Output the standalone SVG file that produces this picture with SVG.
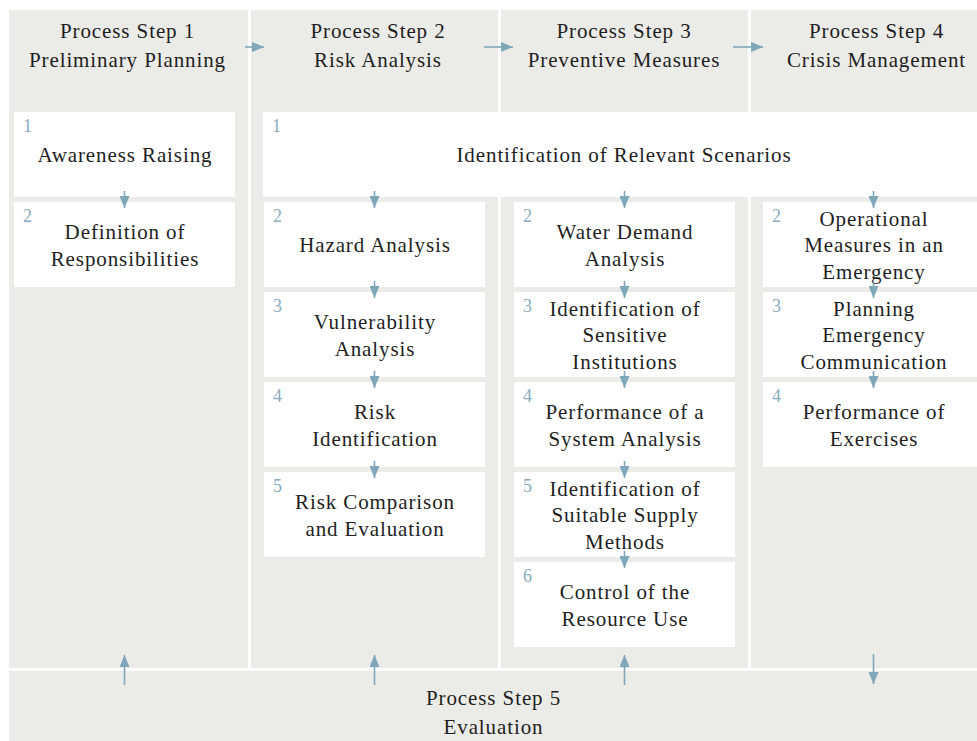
<svg xmlns="http://www.w3.org/2000/svg" width="977" height="741" viewBox="0 0 977 741">
<style>
.bg{fill:#ebebe7}
.box{fill:#ffffff}
.t{font-family:'Liberation Serif','DejaVu Serif',serif;font-size:21px;letter-spacing:0.9px;fill:#1e1e1e;text-anchor:middle}
.n{font-family:'Liberation Serif','DejaVu Serif',serif;font-size:18px;fill:#8aabbd}
.c{stroke:#80a7b9;stroke-width:1.6;fill:none;marker-end:url(#ah)}
</style>
<defs>
<marker id="ah" viewBox="0 0 12 10" refX="12" refY="5" markerWidth="12" markerHeight="10" markerUnits="userSpaceOnUse" orient="auto">
<path d="M0,0 L12,5 L0,10 z" fill="#80a7b9"/>
</marker>
</defs>
<rect width="977" height="741" fill="#ffffff"/>
<g id="columns">
<rect class="bg" x="9" y="10" width="239" height="658"/>
<rect class="bg" x="251" y="10" width="247" height="658"/>
<rect class="bg" x="501" y="10" width="247" height="658"/>
<rect class="bg" x="751" y="10" width="233" height="658"/>
</g>
<g id="step1">
<text class="t" x="127.5" y="38">Process Step 1</text>
<text class="t" x="127.5" y="67">Preliminary Planning</text>
</g>
<g id="step2">
<text class="t" x="378" y="38">Process Step 2</text>
<text class="t" x="378" y="67">Risk Analysis</text>
</g>
<g id="step3">
<text class="t" x="624" y="38">Process Step 3</text>
<text class="t" x="624" y="67">Preventive Measures</text>
</g>
<g id="step4">
<text class="t" x="876.5" y="38">Process Step 4</text>
<text class="t" x="876.5" y="67">Crisis Management</text>
</g>
<g id="step5">
<rect class="bg" x="9" y="671" width="975" height="75"/>
<text class="t" x="493.5" y="705">Process Step 5</text>
<text class="t" x="493.5" y="734">Evaluation</text>
</g>
<g id="p1-1">
<rect class="box" x="14" y="112" width="221" height="85"/>
<text class="n" x="23" y="132">1</text>
<text class="t" x="125" y="162">Awareness Raising</text>
</g>
<g id="p1-2">
<rect class="box" x="14" y="202" width="221" height="85"/>
<text class="n" x="23" y="222">2</text>
<text class="t" x="125" y="239">Definition of</text>
<text class="t" x="125" y="266">Responsibilities</text>
</g>
<g id="p234-1">
<rect class="box" x="263" y="112" width="721" height="85"/>
<text class="n" x="272" y="132">1</text>
<text class="t" x="624" y="162">Identification of Relevant Scenarios</text>
</g>
<g id="p2-2">
<rect class="box" x="264" y="202" width="221" height="85"/>
<text class="n" x="273" y="222">2</text>
<text class="t" x="375" y="252">Hazard Analysis</text>
</g>
<g id="p2-3">
<rect class="box" x="264" y="292" width="221" height="85"/>
<text class="n" x="273" y="312">3</text>
<text class="t" x="375" y="329">Vulnerability</text>
<text class="t" x="375" y="356">Analysis</text>
</g>
<g id="p2-4">
<rect class="box" x="264" y="382" width="221" height="85"/>
<text class="n" x="273" y="402">4</text>
<text class="t" x="375" y="419">Risk</text>
<text class="t" x="375" y="446">Identification</text>
</g>
<g id="p2-5">
<rect class="box" x="264" y="472" width="221" height="85"/>
<text class="n" x="273" y="492">5</text>
<text class="t" x="375" y="509">Risk Comparison</text>
<text class="t" x="375" y="536">and Evaluation</text>
</g>
<g id="p3-2">
<rect class="box" x="514" y="202" width="221" height="85"/>
<text class="n" x="523" y="222">2</text>
<text class="t" x="625" y="239">Water Demand</text>
<text class="t" x="625" y="266">Analysis</text>
</g>
<g id="p3-3">
<rect class="box" x="514" y="292" width="221" height="85"/>
<text class="n" x="523" y="312">3</text>
<text class="t" x="625" y="315.5">Identification of</text>
<text class="t" x="625" y="342">Sensitive</text>
<text class="t" x="625" y="368.5">Institutions</text>
</g>
<g id="p3-4">
<rect class="box" x="514" y="382" width="221" height="85"/>
<text class="n" x="523" y="402">4</text>
<text class="t" x="625" y="419">Performance of a</text>
<text class="t" x="625" y="446">System Analysis</text>
</g>
<g id="p3-5">
<rect class="box" x="514" y="472" width="221" height="85"/>
<text class="n" x="523" y="492">5</text>
<text class="t" x="625" y="495.5">Identification of</text>
<text class="t" x="625" y="522">Suitable Supply</text>
<text class="t" x="625" y="548.5">Methods</text>
</g>
<g id="p3-6">
<rect class="box" x="514" y="562" width="221" height="85"/>
<text class="n" x="523" y="582">6</text>
<text class="t" x="625" y="599">Control of the</text>
<text class="t" x="625" y="626">Resource Use</text>
</g>
<g id="p4-2">
<rect class="box" x="763" y="202" width="221" height="85"/>
<text class="n" x="772" y="222">2</text>
<text class="t" x="874" y="225.5">Operational</text>
<text class="t" x="874" y="252">Measures in an</text>
<text class="t" x="874" y="278.5">Emergency</text>
</g>
<g id="p4-3">
<rect class="box" x="763" y="292" width="221" height="85"/>
<text class="n" x="772" y="312">3</text>
<text class="t" x="874" y="315.5">Planning</text>
<text class="t" x="874" y="342">Emergency</text>
<text class="t" x="874" y="368.5">Communication</text>
</g>
<g id="p4-4">
<rect class="box" x="763" y="382" width="221" height="85"/>
<text class="n" x="772" y="402">4</text>
<text class="t" x="874" y="419">Performance of</text>
<text class="t" x="874" y="446">Exercises</text>
</g>
<g id="connectors">
<line class="c" x1="245" y1="47" x2="264" y2="47"/>
<line class="c" x1="484" y1="47" x2="513" y2="47"/>
<line class="c" x1="733" y1="47" x2="763" y2="47"/>
<line class="c" x1="124.5" y1="191" x2="124.5" y2="208"/>
<line class="c" x1="374.5" y1="191" x2="374.5" y2="208"/>
<line class="c" x1="624.5" y1="191" x2="624.5" y2="208"/>
<line class="c" x1="873.5" y1="191" x2="873.5" y2="208"/>
<line class="c" x1="374.5" y1="281" x2="374.5" y2="298"/>
<line class="c" x1="374.5" y1="371" x2="374.5" y2="388"/>
<line class="c" x1="374.5" y1="461" x2="374.5" y2="478"/>
<line class="c" x1="624.5" y1="281" x2="624.5" y2="298"/>
<line class="c" x1="624.5" y1="371" x2="624.5" y2="388"/>
<line class="c" x1="624.5" y1="461" x2="624.5" y2="478"/>
<line class="c" x1="624.5" y1="551" x2="624.5" y2="568"/>
<line class="c" x1="873.5" y1="281" x2="873.5" y2="298"/>
<line class="c" x1="873.5" y1="371" x2="873.5" y2="388"/>
<line class="c" x1="124.5" y1="685" x2="124.5" y2="655"/>
<line class="c" x1="374.5" y1="685" x2="374.5" y2="655"/>
<line class="c" x1="624.5" y1="685" x2="624.5" y2="655"/>
<line class="c" x1="873.5" y1="654" x2="873.5" y2="684"/>
</g>
</svg>
